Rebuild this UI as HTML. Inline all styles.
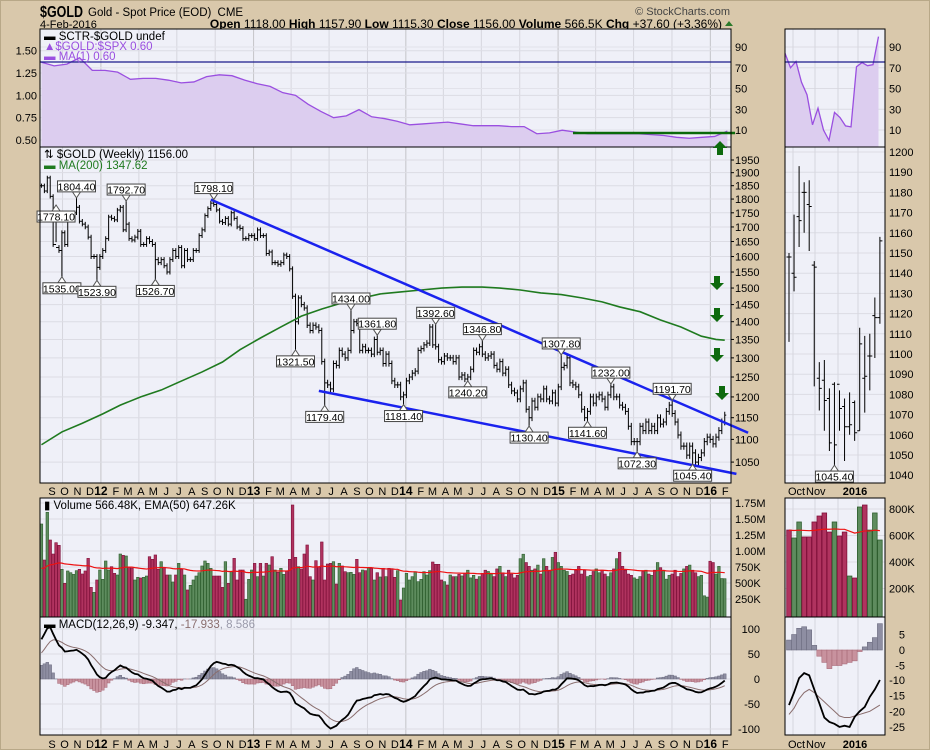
<!DOCTYPE html>
<html><head><meta charset="utf-8"><style>
body{margin:0;background:#d9c8ab;}
svg{display:block;font-family:"Liberation Sans",sans-serif;}
</style></head><body>
<svg id="c" width="930" height="750" viewBox="0 0 930 750">
<rect x="0.5" y="0.5" width="929" height="749" fill="#d9c8ab" stroke="#b8a888"/>
<text x="40" y="17" font-size="16" font-weight="bold" textLength="43" lengthAdjust="spacingAndGlyphs">$GOLD</text>
<text x="88" y="16" font-size="11.5">Gold - Spot Price (EOD) <tspan dx="3">CME</tspan></text>
<text x="40" y="28" font-size="11">4-Feb-2016</text>
<text x="722" y="28" font-size="12" text-anchor="end"><tspan font-weight="bold">Open</tspan> 1118.00 <tspan font-weight="bold">High</tspan> 1157.90 <tspan font-weight="bold">Low</tspan> 1115.30 <tspan font-weight="bold">Close</tspan> 1156.00 <tspan font-weight="bold">Volume</tspan> 566.5K <tspan font-weight="bold">Chg</tspan> +37.60 (+3.36%)</text>
<polygon points="725,26 733,26 729,21" fill="#2a7a2a"/>
<text x="730" y="15" font-size="11" text-anchor="end" fill="#444">© StockCharts.com</text>
<g id="g"></g>
</svg>
<script>
// ---- data ----
const closes=[1850,1830,1880,1810,1640,1630,1620,1680,1640,1730,
1745,1750,1770,1720,1710,1700,1665,1600,1600,1565,
1600,1620,1660,1735,1730,1725,1760,1770,1690,1710,
1660,1655,1665,1685,1640,1640,1660,1650,1640,1590,
1580,1590,1570,1550,1590,1620,1600,1630,1570,1620,
1590,1590,1620,1620,1670,1690,1740,1765,1785,1780,
1760,1720,1715,1730,1710,1750,1730,1700,1695,1660,
1660,1670,1670,1660,1690,1670,1670,1610,1615,1580,
1580,1575,1580,1605,1600,1560,1475,1400,1470,1450,
1440,1390,1375,1390,1385,1375,1290,1235,1230,1220,
1285,1280,1320,1310,1300,1320,1375,1400,1395,1320,
1330,1320,1320,1310,1350,1315,1320,1285,1310,1285,
1240,1230,1230,1200,1205,1240,1250,1260,1265,1320,
1325,1335,1340,1385,1335,1330,1295,1290,1305,1300,
1300,1290,1300,1250,1255,1245,1250,1270,1320,1315,
1330,1310,1300,1305,1310,1280,1270,1290,1260,1270,
1230,1215,1210,1195,1220,1235,1170,1150,1190,1175,
1200,1195,1220,1195,1190,1210,1185,1225,1275,1280,
1300,1235,1230,1225,1205,1170,1150,1165,1200,1185,
1200,1205,1195,1175,1205,1225,1200,1200,1180,1175,
1165,1130,1095,1095,1095,1130,1120,1140,1120,1130,
1120,1150,1135,1140,1165,1180,1160,1140,1110,1085,
1085,1065,1085,1070,1050,1060,1070,1095,1105,1100,
1090,1105,1120,1140,1156];
const history=[1360,1370,1340,1330,1350,1360,1375,1400,1410,1430,1420,1430,1420,1440,1460,1475,1500,1555,1490,1495,1510,1530,1540,1530,1510,1500,1490,1545,1590,1620,1660,1740];
const volumes=[1422,859,1605,1172,953,1130,1089,714,495,688,
661,635,693,714,641,688,885,432,354,547,
703,557,844,703,755,651,625,953,932,922,
750,734,547,589,578,589,609,911,870,938,
714,833,745,625,625,516,625,807,714,625,
391,464,547,609,661,766,844,807,729,609,
609,609,432,833,495,677,885,547,703,703,
245,557,703,807,599,807,609,807,781,911,
703,667,729,635,688,870,1719,901,755,719,
953,1094,599,547,849,755,1141,547,797,807,
833,484,807,766,677,661,667,635,870,661,
703,693,745,729,547,661,594,729,599,729,
724,589,693,234,422,651,547,599,677,521,
557,677,625,693,828,792,792,547,521,469,
625,599,599,635,610,650,700,580,620,560,
600,650,700,680,640,600,720,760,660,600,
700,640,580,620,880,950,820,760,700,720,
780,640,880,760,700,900,980,820,760,700,
680,620,640,700,760,640,700,600,620,680,
720,660,700,640,600,660,720,880,980,760,
700,640,620,580,560,600,680,700,640,620,
700,820,740,700,560,620,640,700,600,650,
720,760,780,700,660,600,620,300,280,840,
820,640,760,570,567];
const ratioVals=[1.37,1.33,1.35,1.42,1.28,1.28,1.26,1.18,1.19,1.19,1.17,1.14,1.15,1.21,1.23,1.22,1.17,1.13,1.10,1.03,1.00,0.90,0.82,0.75,0.77,0.84,0.76,0.74,0.71,0.67,0.68,0.69,0.70,0.68,0.66,0.66,0.66,0.65,0.65,0.57,0.58,0.61,0.59,0.57,0.57,0.57,0.57,0.57,0.56,0.55,0.53,0.52,0.53,0.54,0.60];
const ma200Weeks=[0,7,14,21,27,34,41,48,55,62,68,75,82,89,96,103,110,116,123,130,137,144,151,157,164,171,178,185,192,198,205,212,219,226,231,234];
const ma200Vals=[1088,1117,1137,1159,1180,1200,1217,1240,1263,1289,1322,1354,1385,1416,1437,1455,1470,1482,1488,1494,1500,1503,1503,1500,1494,1485,1480,1470,1458,1443,1429,1405,1385,1359,1350,1348];
const peakWeeks=[5,12,29,59,7,19,39,87,97,106,115,124,135,146,151,167,178,187,195,204,216,223];
const peakPrices=[1778.10,1804.40,1792.70,1798.10,1535.00,1523.90,1526.70,1321.50,1179.40,1434.00,1361.80,1181.40,1392.60,1240.20,1346.80,1130.40,1307.80,1141.60,1232.00,1072.30,1191.70,1045.40];
const peakKinds=['l','h','h','h','l','l','l','l','l','h','h','l','h','l','h','l','h','l','h','l','h','l'];
const trendUpper=[[58,1798],[242,1115]];
const trendLower=[[95,1215],[238,1025]];
const priceTicks=[1950,1900,1850,1800,1750,1700,1650,1600,1550,1500,1450,1400,1350,1300,1250,1200,1150,1100,1050];
const ratioTicks=[1.50,1.25,1.00,0.75,0.50];
const sctrTicks=[90,70,50,30,10];
const volTicks=[1750,1500,1250,1000,750,500,250];
const volTickLabels=['1.75M','1.50M','1.25M','1.00M','750K','500K','250K'];
const macdTicks=[100,50,0,-50,-100];
// right (daily zoom) panel
const rHigh=[1150,1169,1193,1185,1186,1146,1096,1097,1083,1086,1082,1078,1081,1077,1113,1109,1110,1128,1158];
const rLow=[1106,1131,1153,1160,1151,1084,1072,1062,1052,1045,1062,1047,1060,1057,1062,1071,1082,1098,1115];
const rOpen=[1148,1140,1168,1180,1174,1144,1088,1087,1078,1085,1085,1074,1064,1076,1062,1088,1099,1119,1118];
const rClose=[1148,1138,1166,1180,1173,1143,1083,1077,1056,1055,1073,1064,1065,1061,1105,1089,1099,1118,1156];
const rVol=[641,581,702,589,589,702,747,770,626,702,596,626,294,279,815,830,641,770,566];
const rVolUp=[0,1,1,0,0,0,0,0,0,1,0,0,1,0,1,0,1,1,1];
const rSctr=[84,70,76,56,44,15,31,10,0,27,22,14,13,71,75,72,73,100];
const rHist=[3.2,5,7,7.5,6.5,1.5,-2,-4,-6,-5,-5,-4.5,-4,-3.5,-0.5,1,2.5,4,8.5];
const rMacd=[-18,-14,-9.4,-7.8,-8.5,-13,-17.4,-22,-23.4,-24,-25,-24.6,-25,-21.8,-20,-18.6,-15.4,-13,-10];
const rSignal=[-21,-19,-16,-14,-13,-14,-15.5,-17,-18.5,-20,-21.5,-22,-22,-21.5,-21,-20.5,-20,-19,-18];
const rPriceTicks=[1200,1190,1180,1170,1160,1150,1140,1130,1120,1110,1100,1090,1080,1070,1060,1050,1040];

// ---- scales ----
const X0=40,X1=731,PW=2.92,RX0=785,RX1=885;
const P={top:[29,147],main:[147,483],vol:[498,617],macd:[617,735]};
const xi=i=>X0+(i+0.5)*PW;
const yP=p=>160+(Math.log(1950)-Math.log(p))*488;
const yR=v=>140-(v-0.5)*89.3;
const yS=s=>130-(s-10)*83/80;
const yV=k=>615-k*0.064;
const yM=m=>679-m*0.5;
const rx=j=>789+j*5.05;
const yRP=p=>152+(1200-p)*2.02;
const yRV=k=>615-k*0.1325;
const yRH=h=>650-h*3.1;
const yRM=m=>680-(m+10)*3.13;

const NS='http://www.w3.org/2000/svg',G=document.getElementById('g');
function mk(tag,at,parent){const e=document.createElementNS(NS,tag);for(const k in at)e.setAttribute(k,at[k]);(parent||G).appendChild(e);return e;}
function txt(x,y,s,at,parent){const e=mk('text',Object.assign({x:x,y:y,'font-size':11},at||{}),parent);e.textContent=s;return e;}

for(const k in P){const p=P[k];
 const r=mk('rect',{x:X0,y:p[0],width:X1-X0,height:p[1]-p[0],fill:'#eff0f8'});
 
 
 const r2=mk('rect',{x:RX0,y:p[0],width:RX1-RX0,height:p[1]-p[0],fill:'#eff0f8'});
 
 
}
const start=new Date(2011,7,8);
const wk=d=>(d-start)/864e5/7;
const mlet='JFMAMJJASOND';
for(let y=2011;y<=2016;y++)for(let m=0;m<12;m++){
 const d=new Date(y,m,1);const w=wk(d);if(w<0.5||w>235)continue;
 const x=X0+w*PW;
 if(m%3==0){for(const k in P){const p=P[k];mk('line',{x1:x,x2:x,y1:p[0],y2:p[1],stroke:m==0?'#c4c4c8':'#d6d6de','stroke-width':1});}}
 const lab=m==0?String(y).slice(2):mlet[m];
 for(const yy of [495,748]){const t=txt(x+(m==0?0:2),yy,lab,{'text-anchor':'middle','font-weight':m==0?'bold':'normal','font-size':m==0?12:11});
 
 }
}
priceTicks.forEach(p=>{const y=yP(p);mk('line',{x1:X0,x2:X1,y1:y,y2:y,stroke:'#dcdce4'});
 const t=txt(735,y+4,String(p),{});
 mk('line',{x1:X1,x2:X1+3,y1:y,y2:y,stroke:'#000'});});
ratioTicks.forEach(v=>{const y=yR(v);mk('line',{x1:X0,x2:X1,y1:y,y2:y,stroke:'#dcdce4'});
 const t=txt(37,y+4,v.toFixed(2),{'text-anchor':'end'});});
sctrTicks.forEach(v=>{const y=yS(v);mk('line',{x1:X0,x2:X1,y1:y,y2:y,stroke:'#e2e2ea'});mk('line',{x1:RX0,x2:RX1,y1:y,y2:y,stroke:'#dcdce4'});
 const t=txt(735,y+4,String(v),{});
 const t2=txt(889,y+4,String(v),{});});
volTicks.forEach((v,i)=>{const y=yV(v);mk('line',{x1:X0,x2:X1,y1:y,y2:y,stroke:'#dcdce4'});
 const t=txt(735,y+4,volTickLabels[i],{});});
macdTicks.forEach(v=>{const y=yM(v);mk('line',{x1:X0,x2:X1,y1:y,y2:y,stroke:'#dcdce4'});
 const t=txt(760,y+4,String(v),{'text-anchor':'end'});});
rPriceTicks.forEach(p=>{const y=yRP(p);mk('line',{x1:RX0,x2:RX1,y1:y,y2:y,stroke:'#dcdce4'});
 const t=txt(889,y+4,String(p),{});});
[200,400,600,800].forEach(v=>{const y=yRV(v);mk('line',{x1:RX0,x2:RX1,y1:y,y2:y,stroke:'#dcdce4'});
 const t=txt(889,y+4,v+'K',{});});
[5,0,-5].forEach(v=>{const t=txt(905,yRH(v)+4,String(v),{'text-anchor':'end'});});
[-10,-15,-20,-25].forEach(v=>{const t=txt(905,yRM(v)+4,String(v),{'text-anchor':'end'});});
[[793],[815],[838],[858]].forEach(a=>{for(const k in P){const p=P[k];mk('line',{x1:a[0],x2:a[0],y1:p[0],y2:p[1],stroke:'#d6d6de'});}});
[[788,'Oct',0],[806,'Nov',0],[855,'2016',1]].forEach(a=>{for(const yy of [495,748]){const t=txt(a[0],yy,a[1],{'font-weight':a[2]?'bold':'normal','text-anchor':a[2]?'middle':'start'});}});

let pts=ratioVals.map((v,k)=>[xi(k*4.35),yR(v)]);
const ra=mk('path',{d:'M'+pts.map(p=>p.join(',')).join('L')+`L${pts[pts.length-1][0]},147L${pts[0][0]},147Z`,fill:'#dccdef'});

const rl=mk('polyline',{points:pts.map(p=>p.join(',')).join(' '),fill:'none',stroke:'#9a4fe0','stroke-width':1.3});

mk('line',{x1:X0,x2:X1,y1:62,y2:62,stroke:'#1a1a8a','stroke-width':1.2});
mk('line',{x1:573,x2:735,y1:133,y2:133,stroke:'#0a6a0a','stroke-width':2.5});
pts=rSctr.map((v,j)=>[785+j*5.5,yS(v)]);
mk('path',{d:'M'+pts.map(p=>p.join(',')).join('L')+`L${pts[pts.length-1][0]},147L785,147Z`,fill:'#dccdef'});
mk('polyline',{points:pts.map(p=>p.join(',')).join(' '),fill:'none',stroke:'#9a4fe0','stroke-width':1.3});
mk('line',{x1:RX0,x2:RX1,y1:62,y2:62,stroke:'#1a1a8a','stroke-width':1.2});

const hi=[],lo=[];
closes.forEach((c,i)=>{const o=i?closes[i-1]:c;hi[i]=Math.max(o,c)+8;lo[i]=Math.min(o,c)-8;});
peakWeeks.forEach((w,k)=>{if(w<closes.length){if(peakKinds[k]=='h')hi[w]=peakPrices[k];else lo[w]=peakPrices[k];}});
closes.forEach((c,i)=>{const o=i?closes[i-1]:c,x=xi(i);
 const b=mk('path',{d:`M${x},${yP(hi[i])}V${yP(lo[i])}M${x-1.5},${yP(o)}H${x}M${x},${yP(c)}H${x+1.5}`,stroke:'#000','stroke-width':1,fill:'none'});
 
 });
const ma=mk('polyline',{points:ma200Weeks.map((w,k)=>xi(w)+','+yP(ma200Vals[k])).join(' '),fill:'none',stroke:'#1f7a1f','stroke-width':1.6});

[[trendUpper,'upper-trendline'],[trendLower,'lower-trendline']].forEach(t=>{const l=mk('line',{x1:xi(t[0][0][0]),y1:yP(t[0][0][1]),x2:xi(t[0][1][0]),y2:yP(t[0][1][1]),stroke:'#1a22ee','stroke-width':2.5});
 });
peakWeeks.forEach((w,k)=>{const x=xi(w),yp=yP(peakPrices[k]),s=peakPrices[k].toFixed(2),bw=38,h=11;
 const hiK=peakKinds[k]=='h';
 const by=hiK?yp-6-h:yp+6;
 const g=mk('g',{});
 
 
 mk('polygon',{points:hiK?`${x-4},${by+h} ${x+4},${by+h} ${x},${yp}`:`${x-4},${by} ${x+4},${by} ${x},${yp}`,fill:'#fff',stroke:'#555'},g);
 mk('rect',{x:x-bw/2,y:by,width:bw,height:h,fill:'#fff',stroke:'#444'},g);
 txt(x,by+9.5,s,{'text-anchor':'middle','font-size':10.5},g);});
function arrow(x,y,up,name){const a=mk('polygon',{points:up?`${x},${y} ${x+7},${y+7} ${x+3},${y+7} ${x+3},${y+14} ${x-3},${y+14} ${x-3},${y+7} ${x-7},${y+7}`:`${x-3},${y} ${x+3},${y} ${x+3},${y+7} ${x+7},${y+7} ${x},${y+14} ${x-7},${y+7} ${x-3},${y+7}`,fill:'#0e6a0e'});
 }
arrow(717,276,false,'sell-arrow');arrow(717,308,false,'sell-arrow');arrow(717,348,false,'sell-arrow');arrow(722,386,false,'sell-arrow');
rHigh.forEach((h,j)=>{const x=rx(j);const b=mk('path',{d:`M${x},${yRP(h)}V${yRP(rLow[j])}M${x-2.5},${yRP(rOpen[j])}H${x}M${x},${yRP(rClose[j])}H${x+2.5}`,stroke:'#000','stroke-width':1,fill:'none'});
 });
{const x=rx(9),yp=yRP(1045);mk('polygon',{points:`${x-4},${yp+6} ${x+4},${yp+6} ${x},${yp}`,fill:'#fff',stroke:'#555'});mk('rect',{x:x-19,y:yp+6,width:38,height:11,fill:'#fff',stroke:'#444'});txt(x,yp+15.5,'1045.40',{'text-anchor':'middle','font-size':10.5});}

volumes.forEach((v,i)=>{if(i>=closes.length)return;const up=i==0||closes[i]>=closes[i-1];
 const r=mk('rect',{x:xi(i)-1.3,y:yV(v),width:2.6,height:615-yV(v)+2,fill:up?'#5e8c5e':'#b0335f',stroke:up?'#2e5e2e':'#80103a','stroke-width':0.6});
 });
let e=700;const vema=volumes.map(v=>e=e+(v-e)*2/51);
mk('polyline',{points:vema.map((v,i)=>xi(i)+','+yV(v)).join(' '),fill:'none',stroke:'#ee1111','stroke-width':1.2});
rVol.forEach((v,j)=>{const up=rVolUp[j];const r=mk('rect',{x:rx(j)-2.3,y:yRV(v),width:4.6,height:617-yRV(v),fill:up?'#5e8c5e':'#b0335f',stroke:up?'#2e5e2e':'#80103a','stroke-width':0.8});
 });
{let ee=640;const re=rVol.map(v=>ee=ee+(v-ee)*0.04);mk('polyline',{points:re.map((v,j)=>rx(j)+','+yRV(v)).join(' '),fill:'none',stroke:'#ee1111','stroke-width':1.2});}

const all=history.concat(closes);
let e12=all[0],e26=all[0],sg=0;const mac=[],sig=[];
all.forEach(c=>{e12+= (c-e12)*2/13;e26+=(c-e26)*2/27;const m=e12-e26;sg+=(m-sg)*0.2;mac.push(m);sig.push(sg);});
const off=history.length;
closes.forEach((c,i)=>{const h=mac[off+i]-sig[off+i];const y0=yM(0),y1=yM(h);
 const r=mk('rect',{x:xi(i)-1.4,y:Math.min(y0,y1),width:2.8,height:Math.abs(y1-y0),fill:h>=0?'#8e8ea2':'#c8929e',stroke:h>=0?'#6e6e82':'#a86a78','stroke-width':0.5});
 });
mk('polyline',{points:closes.map((c,i)=>xi(i)+','+yM(sig[off+i])).join(' '),fill:'none',stroke:'#8a6e6e','stroke-width':1});
mk('polyline',{points:closes.map((c,i)=>xi(i)+','+yM(mac[off+i])).join(' '),fill:'none',stroke:'#000','stroke-width':1.8});
rHist.forEach((h,j)=>{const y0=yRH(0),y1=yRH(h);const r=mk('rect',{x:rx(j)-2.5,y:Math.min(y0,y1),width:5,height:Math.abs(y1-y0),fill:h>=0?'#8e8ea2':'#c8929e',stroke:h>=0?'#6e6e82':'#a86a78','stroke-width':0.6});
 });
mk('polyline',{points:rSignal.map((v,j)=>rx(j)+','+yRM(v)).join(' '),fill:'none',stroke:'#8a6e6e','stroke-width':1});
mk('polyline',{points:rMacd.map((v,j)=>rx(j)+','+yRM(v)).join(' '),fill:'none',stroke:'#000','stroke-width':1.8});

for(const k in P){const p=P[k];mk('rect',{x:X0,y:p[0],width:X1-X0,height:p[1]-p[0],fill:'none',stroke:'#000'});mk('rect',{x:RX0,y:p[0],width:RX1-RX0,height:p[1]-p[0],fill:'none',stroke:'#000'});}
arrow(720,141,true,'buy-arrow');

function leg(y,parts,name){const t=mk('text',{x:44,y:y,'font-size':11.5});
 parts.forEach(p=>{const s=mk('tspan',{fill:p[1]},t);s.textContent=p[0];});}
leg(40,[['▬ SCTR-$GOLD undef','#000']],'legend-sctr');
leg(50,[['▲$GOLD:$SPX 0.60','#9a4fe0']],'legend-ratio');
leg(60,[['▬ MA(1) 0.60','#9a4fe0']],'legend-ma1');
leg(158,[['⇅ $GOLD (Weekly) 1156.00','#000']],'legend-price');
leg(169,[['▬ MA(200) 1347.62','#1f7a1f']],'legend-ma200');
leg(509,[['▮ Volume 566.48K, EMA(50) 647.26K','#000']],'legend-volume');
leg(628,[['▬ MACD(12,26,9) -9.347, ','#000'],['-17.933','#8a6e6e'],[', 8.586','#9a9aaa']],'legend-macd');
</script>
</body></html>
